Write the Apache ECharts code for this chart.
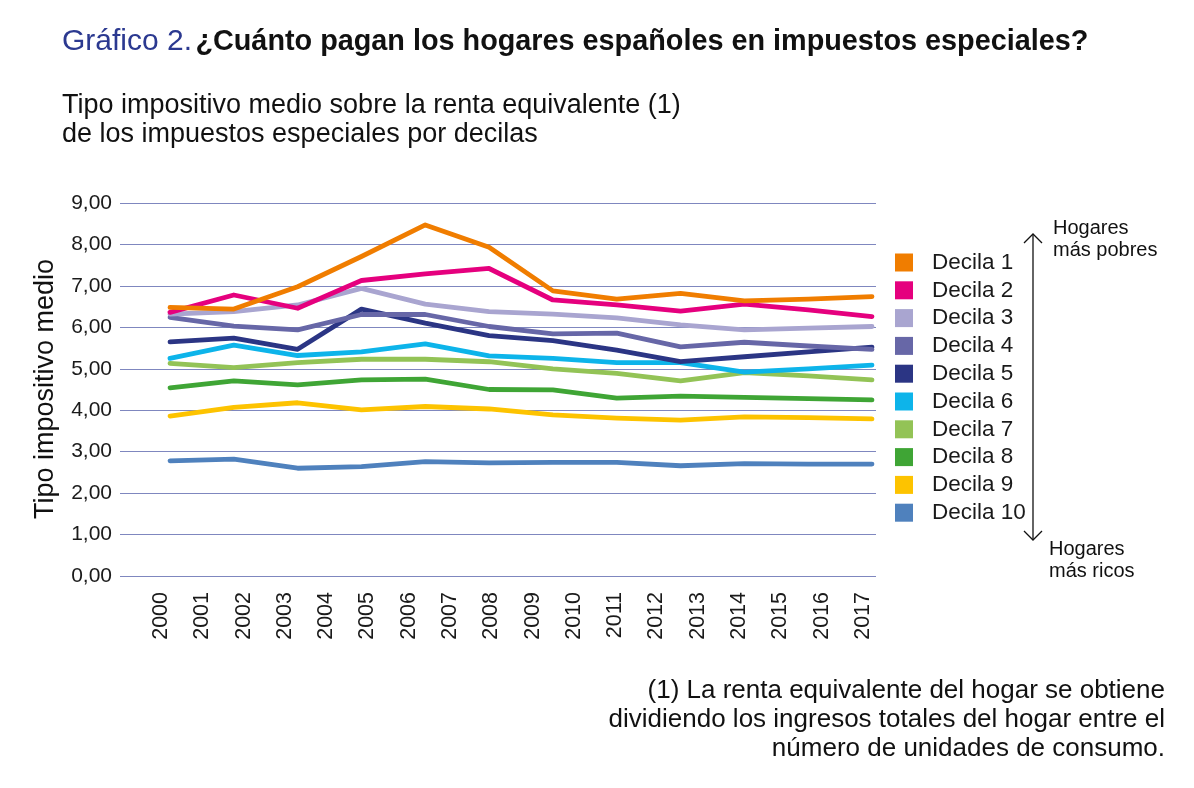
<!DOCTYPE html>
<html>
<head>
<meta charset="utf-8">
<script src="https://cdn.jsdelivr.net/npm/echarts@6/dist/echarts.min.js"></script>
<style>
  html, body { margin: 0; padding: 0; background: #fff; }
  #chart { width: 1194px; height: 788px; }
</style>
</head>
<body>
<div id="chart"></div>
<script>
// year labels printed under the axis
const years = ['2000', '2001', '2002', '2003', '2004', '2005', '2006', '2007', '2008',
  '2009', '2010', '2011', '2012', '2013', '2014', '2015', '2016', '2017'];
// the lines only have 12 vertices
const periods = ['2006', '2007', '2008', '2009', '2010', '2011', '2012', '2013', '2014', '2015', '2016', '2017'];

const decila1 = [6.48, 6.44, 6.98, 7.71, 8.47, 7.93, 6.88, 6.68, 6.82, 6.64, 6.68, 6.74];
const decila2 = [6.36, 6.78, 6.46, 7.13, 7.29, 7.42, 6.66, 6.54, 6.39, 6.56, 6.42, 6.26];
const decila3 = [6.32, 6.38, 6.54, 6.94, 6.56, 6.38, 6.32, 6.23, 6.06, 5.94, 5.98, 6.02];
const decila4 = [6.24, 6.03, 5.94, 6.31, 6.31, 6.02, 5.84, 5.86, 5.53, 5.64, 5.55, 5.47];
const decila5 = [5.65, 5.74, 5.47, 6.44, 6.10, 5.80, 5.68, 5.45, 5.17, 5.29, 5.41, 5.52];
const decila6 = [5.25, 5.57, 5.32, 5.41, 5.60, 5.31, 5.25, 5.15, 5.15, 4.92, 5.00, 5.09];
const decila7 = [5.13, 5.03, 5.15, 5.23, 5.23, 5.17, 5.00, 4.89, 4.71, 4.91, 4.83, 4.73];
const decila8 = [4.54, 4.71, 4.61, 4.73, 4.75, 4.50, 4.49, 4.29, 4.34, 4.31, 4.28, 4.25];
const decila9 = [3.86, 4.07, 4.18, 4.01, 4.09, 4.03, 3.89, 3.81, 3.76, 3.84, 3.82, 3.79];
const decila10 = [2.78, 2.82, 2.60, 2.64, 2.76, 2.73, 2.74, 2.74, 2.66, 2.71, 2.70, 2.70];

const names = ['Decila 1', 'Decila 2', 'Decila 3', 'Decila 4', 'Decila 5',
  'Decila 6', 'Decila 7', 'Decila 8', 'Decila 9', 'Decila 10'];
const values = [decila1, decila2, decila3, decila4, decila5, decila6, decila7, decila8, decila9, decila10];
const colors = ['#f07d00', '#e5007e', '#a9a5d0', '#6767a7', '#2b3584',
  '#0db4ea', '#93c356', '#3fa535', '#fdc300', '#4f81bd'];

const FONT = '"Liberation Sans", Arial, sans-serif';

let myChart = echarts.init(document.getElementById('chart'), null, { renderer: 'canvas' });

/* lower deciles drawn last so they sit on top */
let series = [];
for (let i = values.length - 1; i >= 0; i--) {
  series.push({
    name: names[i],
    type: 'line',
    xAxisIndex: 1,
    yAxisIndex: 1,
    data: values[i],
    symbol: 'none',
    color: colors[i],
    lineStyle: { width: 4.8, color: colors[i], cap: 'round', join: 'round' }
  });
}

let option = {
  backgroundColor: '#fff',
  animation: false,
  textStyle: { fontFamily: FONT },
  grid: [
    { left: 120, right: 318, top: 203, bottom: 212 },  // gridlines + y labels
    { left: 170, right: 322, top: 203, bottom: 212 },  // the lines
    { left: 161, right: 331, top: 203, bottom: 212 }   // year labels
  ],
  xAxis: [
    { gridIndex: 0, type: 'category', data: years, show: false },
    { gridIndex: 1, type: 'category', data: periods, boundaryGap: false, show: false },
    {
      gridIndex: 2, type: 'category', data: years, boundaryGap: false,
      axisLine: { show: false }, axisTick: { show: false },
      axisLabel: { rotate: 90, margin: 16, fontSize: 21.5, color: '#1a1a1a', fontFamily: FONT, interval: 0 }
    }
  ],
  yAxis: [
    {
      gridIndex: 0, type: 'value', min: 0, max: 9, interval: 1,
      axisLine: { show: false }, axisTick: { show: false },
      axisLabel: {
        margin: 8, fontSize: 21, color: '#1a1a1a', fontFamily: FONT,
        formatter: function (v) { return v.toFixed(2).replace('.', ','); }
      },
      splitLine: { lineStyle: { color: '#7f87bf', width: 1.2 } }
    },
    { gridIndex: 1, type: 'value', min: 0, max: 9, interval: 1, show: false, splitLine: { show: false } },
    { gridIndex: 2, type: 'value', min: 0, max: 9, interval: 1, show: false, splitLine: { show: false } }
  ],
  legend: {
    data: names,
    orient: 'vertical',
    left: 890,
    top: 246,
    itemWidth: 18,
    itemHeight: 18,
    itemGap: 4.8,
    icon: 'rect',
    textStyle: { fontSize: 22.5, color: '#1a1a1a', fontFamily: FONT, padding: [0, 0, 0, 14] }
  },
  graphic: [
    {
      type: 'text', x: 62, y: 42,
      style: {
        text: '{a|Gráfico 2.} {b|¿Cuánto pagan los hogares españoles en impuestos especiales?}',
        verticalAlign: 'middle',
        rich: {
          a: { fontSize: 30, fontFamily: FONT, fill: '#2b3990' },
          b: { fontSize: 28.8, fontFamily: FONT, fontWeight: 'bold', fill: '#111' }
        }
      }
    },
    {
      type: 'text', x: 62, y: 91,
      style: {
        text: 'Tipo impositivo medio sobre la renta equivalente (1)\nde los impuestos especiales por decilas',
        fontSize: 27, lineHeight: 29, fontFamily: FONT, fill: '#111', verticalAlign: 'top'
      }
    },
    {
      type: 'text', x: 46, y: 389, rotation: Math.PI / 2,
      style: {
        text: 'Tipo impositivo medio', fontSize: 27, fontFamily: FONT, fill: '#111',
        align: 'center', verticalAlign: 'middle'
      }
    },
    {
      type: 'text', x: 1165, y: 677,
      style: {
        text: '(1) La renta equivalente del hogar se obtiene\ndividiendo los ingresos totales del hogar entre el\nnúmero de unidades de consumo.',
        fontSize: 26, lineHeight: 28.6, fontFamily: FONT, fill: '#111', align: 'right', verticalAlign: 'top'
      }
    },
    {
      type: 'text', x: 1053, y: 217,
      style: { text: 'Hogares\nmás pobres', fontSize: 20, lineHeight: 22, fontFamily: FONT, fill: '#111', verticalAlign: 'top' }
    },
    {
      type: 'text', x: 1049, y: 538,
      style: { text: 'Hogares\nmás ricos', fontSize: 20, lineHeight: 22, fontFamily: FONT, fill: '#111', verticalAlign: 'top' }
    },
    {
      type: 'line', shape: { x1: 1033, y1: 234, x2: 1033, y2: 540 },
      style: { stroke: '#111', lineWidth: 1.3 }
    },
    {
      type: 'polyline', shape: { points: [[1024, 243], [1033, 234], [1042, 243]] },
      style: { stroke: '#111', lineWidth: 1.3, fill: null }
    },
    {
      type: 'polyline', shape: { points: [[1024, 531], [1033, 540], [1042, 531]] },
      style: { stroke: '#111', lineWidth: 1.3, fill: null }
    }
  ],
  series: series
};

myChart.setOption(option);
</script>
</body>
</html>
